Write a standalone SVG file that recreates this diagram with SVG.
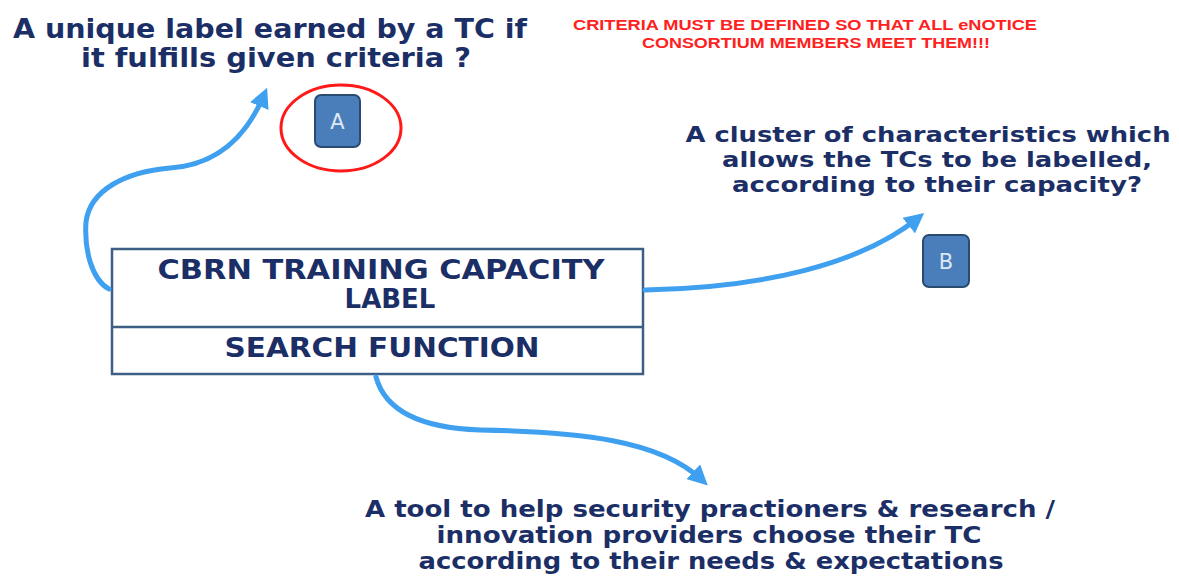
<svg xmlns="http://www.w3.org/2000/svg" width="1179" height="579" viewBox="0 0 1179 579">
<style>
.q{font-family:"DejaVu Sans",Verdana,sans-serif;font-weight:bold;fill:#1b2f66;text-anchor:middle}
.r{font-family:"Liberation Sans Narrow","Liberation Sans",Arial,sans-serif;font-weight:bold;fill:#ff2020;text-anchor:middle;font-size:14px}
.conn{fill:none;stroke:#40a0f0;stroke-width:5;stroke-linecap:round}
.tag{fill:#4a7ebb;stroke:#2b4a70;stroke-width:2}
.tagt{font-family:"DejaVu Sans",Verdana,sans-serif;fill:#dde8f5;font-size:21px;text-anchor:middle}
</style>
<defs>
<marker id="ah" viewBox="0 0 10 10" refX="6" refY="5" markerWidth="4" markerHeight="4" orient="auto" markerUnits="strokeWidth">
<path d="M0,0 L10,5 L0,10 Z" fill="#40a0f0"/>
</marker>
</defs>
<rect width="1179" height="579" fill="#ffffff"/>
<g id="q-a">
<text class="q" x="270" y="38" font-size="26" textLength="514" lengthAdjust="spacingAndGlyphs">A unique label earned by a TC if</text>
<text class="q" x="276" y="67" font-size="26" textLength="390" lengthAdjust="spacingAndGlyphs">it fulfills given criteria ?</text>
</g>
<g id="note">
<text class="r" x="805" y="30" textLength="464" lengthAdjust="spacingAndGlyphs">CRITERIA MUST BE DEFINED SO THAT ALL eNOTICE</text>
<text class="r" x="816" y="48" textLength="348" lengthAdjust="spacingAndGlyphs">CONSORTIUM MEMBERS MEET THEM!!!</text>
</g>
<g id="node-a">
<ellipse cx="341" cy="128" rx="60" ry="43" fill="none" stroke="#ff1a1a" stroke-width="3"/>
<rect class="tag" x="315" y="95" width="45" height="52" rx="6"/>
<text class="tagt" x="337.5" y="129">A</text>
</g>
<g id="q-b">
<text class="q" x="928" y="142" font-size="22" textLength="485" lengthAdjust="spacingAndGlyphs">A cluster of characteristics which</text>
<text class="q" x="937" y="167" font-size="22" textLength="430" lengthAdjust="spacingAndGlyphs">allows the TCs to be labelled,</text>
<text class="q" x="937" y="192" font-size="22" textLength="410" lengthAdjust="spacingAndGlyphs">according to their capacity?</text>
</g>
<g id="node-b">
<rect class="tag" x="923" y="235" width="46" height="52" rx="6"/>
<text class="tagt" x="946" y="269">B</text>
</g>
<g id="main">
<rect x="112" y="249" width="531" height="125" fill="#ffffff" stroke="#3d5f85" stroke-width="2.5"/>
<line x1="112" y1="327" x2="643" y2="327" stroke="#3d5f85" stroke-width="2.5"/>
<text class="q" x="381" y="279" font-size="26" textLength="447" lengthAdjust="spacingAndGlyphs">CBRN TRAINING CAPACITY</text>
<text class="q" x="390" y="308" font-size="26">LABEL</text>
<text class="q" x="382" y="357" font-size="26" textLength="315" lengthAdjust="spacingAndGlyphs">SEARCH FUNCTION</text>
</g>
<g id="q-c">
<text class="q" x="710" y="517" font-size="23" textLength="690" lengthAdjust="spacingAndGlyphs">A tool to help security practioners &amp; research /</text>
<text class="q" x="709" y="543" font-size="23" textLength="545" lengthAdjust="spacingAndGlyphs">innovation providers choose their TC</text>
<text class="q" x="711" y="569" font-size="23" textLength="585" lengthAdjust="spacingAndGlyphs">according to their needs &amp; expectations</text>
</g>
<g id="connectors">
<path class="conn" marker-end="url(#ah)" d="M109,289 C92,280 84,250 86,222 C90,190 125,172 170,168 C215,165 245,140 264,95"/>
<path class="conn" marker-end="url(#ah)" d="M645,290 C760,288 860,265 918,218"/>
<path class="conn" marker-end="url(#ah)" d="M376,377 C385,410 420,428 480,430 C580,432 660,440 702,480"/>
</g>
</svg>
